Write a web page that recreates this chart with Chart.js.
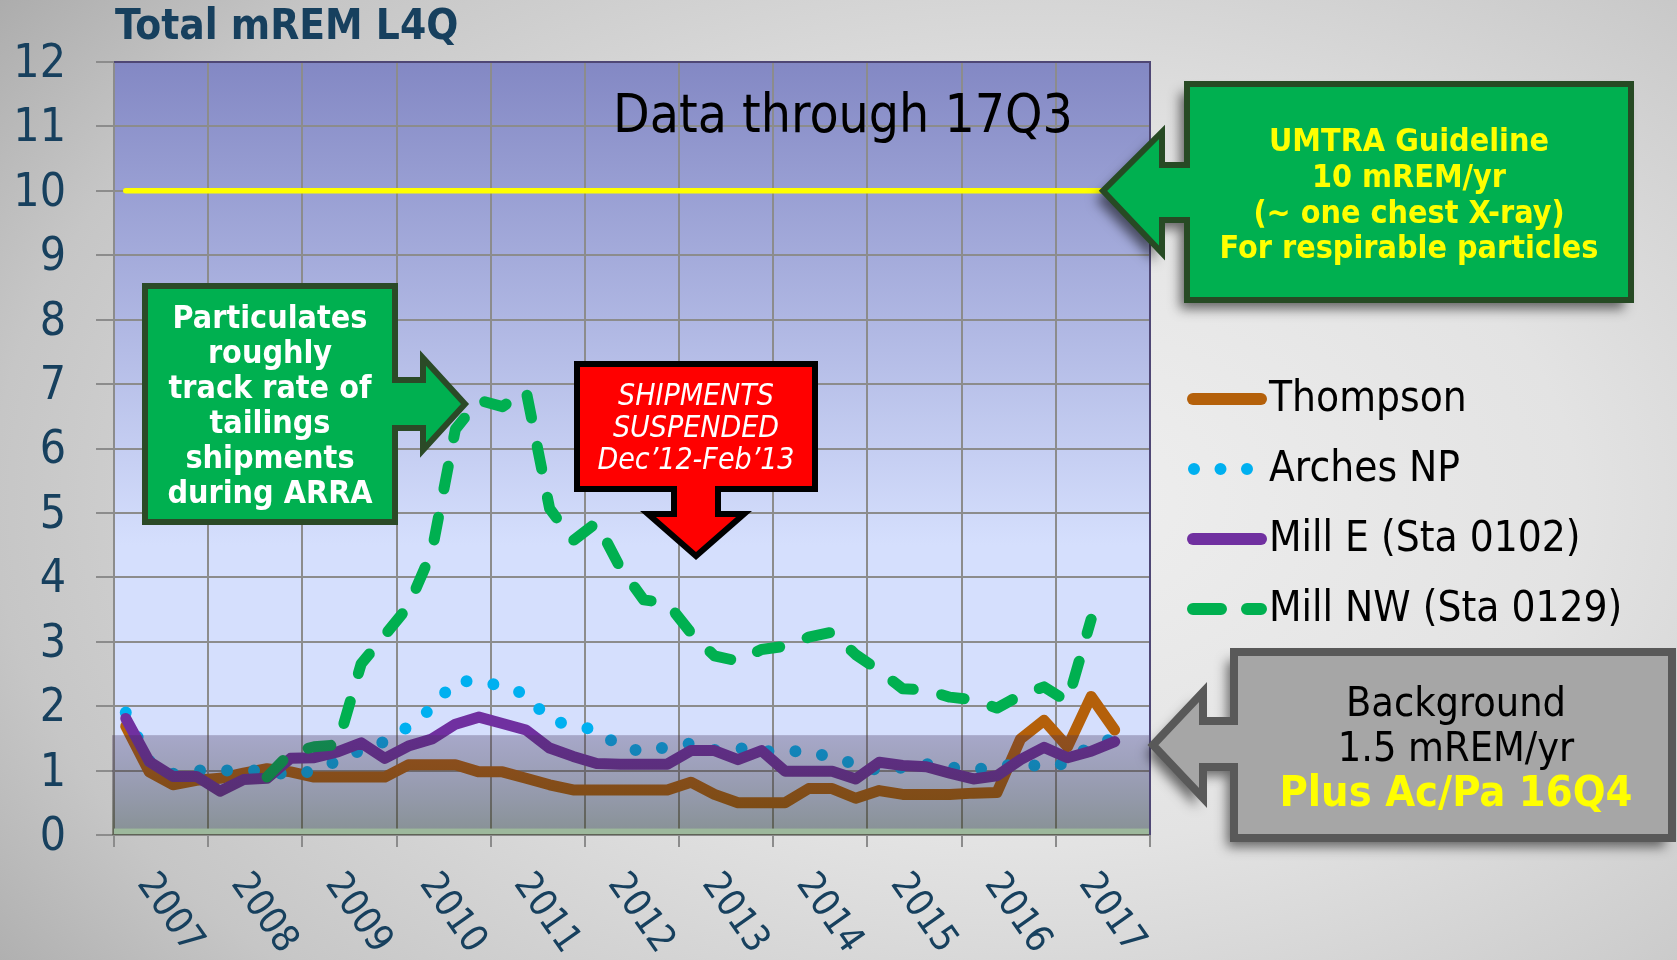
<!DOCTYPE html>
<html>
<head>
<meta charset="utf-8">
<title>Total mREM L4Q</title>
<script src="https://cdn.jsdelivr.net/npm/chart.js@4.4.1/dist/chart.umd.min.js"></script>
<style>
  html, body { margin: 0; padding: 0; }
  #wrap {
    position: relative;
    width: 1677px;
    height: 960px;
    background: radial-gradient(ellipse 80% 90% at 62% 52%, #efefef 0%, #e3e3e3 40%, #c6c6c6 78%, #a8a8a8 100%);
  }
</style>
</head>
<body>
<div id="wrap"><canvas id="chart"></canvas></div>
<script>
// years on the axis, one category per quarter
const years = ['2007', '2008', '2009', '2010', '2011', '2012', '2013', '2014', '2015', '2016', '2017'];
const quarters = [];
years.forEach(y => ['Q1', 'Q2', 'Q3', 'Q4'].forEach(q => quarters.push(y + ' ' + q)));

// total mREM, last four quarters (2007 Q1 .. 2017 Q3)
const thompson = [1.69, 0.98, 0.78, 0.85, 0.88, 0.96, 1.03, 0.98, 0.9, 0.9, 0.9, 0.9,
  1.09, 1.09, 1.09, 0.98, 0.98, 0.88, 0.78, 0.7, 0.7, 0.7, 0.7, 0.7,
  0.82, 0.63, 0.5, 0.5, 0.5, 0.72, 0.72, 0.57, 0.69, 0.63, 0.63, 0.63,
  0.65, 0.66, 1.49, 1.78, 1.37, 2.15, 1.63];
const arches = [1.9, 1.15, 0.95, 1.0, 1.0, 1.0, 1.0, 0.92, 1.0, 1.15, 1.32, 1.45,
  1.68, 1.97, 2.4, 2.37, 2.32, 2.18, 1.78, 1.7, 1.63, 1.37, 1.29, 1.37,
  1.42, 1.32, 1.35, 1.3, 1.3, 1.3, 1.2, 1.1, 1.0, 1.05, 1.1, 1.05,
  1.02, 1.05, 1.12, 1.05, 1.12, 1.4, 1.5];
const millE = [1.81, 1.14, 0.91, 0.91, 0.68, 0.86, 0.88, 1.19, 1.2, 1.29, 1.43, 1.19,
  1.38, 1.49, 1.72, 1.83, 1.73, 1.63, 1.35, 1.22, 1.11, 1.1, 1.1, 1.1,
  1.31, 1.31, 1.17, 1.31, 0.99, 0.99, 0.99, 0.87, 1.13, 1.08, 1.06, 0.96,
  0.87, 0.92, 1.17, 1.36, 1.2, 1.3, 1.45];
const millNW = [null, null, null, null, null, null, 0.9, 1.28, 1.37, 1.4, 2.66, 3.1,
  3.55, 4.4, 6.3, 6.75, 6.65, 6.9, 5.07, 4.57, 4.85, 4.15, 3.65, 3.6,
  3.14, 2.78, 2.7, 2.88, 2.93, 3.07, 3.15, 2.8, 2.55, 2.27, 2.25, 2.14,
  2.1, 1.97, 2.17, 2.3, 2.07, 3.35];

const guidelineLevel = 10;            // UMTRA guideline, mREM/yr
const guidelineSpan = ['2007 Q1', '2017 Q3'];
const backgroundLevel = 1.55;         // shaded background band
const yTicks = [0, 12];

const FONT = '"DejaVu Sans Condensed", "DejaVu Sans", sans-serif';
const INK = '#17405E';

function font(size, weight, style) {
  return (style || 'normal') + ' ' + (weight || 'normal') + ' ' + size + 'px ' + FONT;
}

function textRows(ctx, rows, x, y0, step, f, color) {
  ctx.font = f;
  ctx.fillStyle = color;
  ctx.textAlign = 'center';
  ctx.textBaseline = 'middle';
  rows.forEach((r, i) => ctx.fillText(r, x, y0 + i * step));
}

function shape(ctx, pts, fill, stroke, lw, shadow) {
  ctx.save();
  ctx.beginPath();
  pts.forEach((p, i) => i ? ctx.lineTo(p[0], p[1]) : ctx.moveTo(p[0], p[1]));
  ctx.closePath();
  if (shadow) {
    ctx.shadowColor = 'rgba(0,0,0,0.55)';
    ctx.shadowBlur = 12;
    ctx.shadowOffsetX = -7;
    ctx.shadowOffsetY = 9;
  }
  ctx.fillStyle = fill;
  ctx.fill();
  ctx.shadowColor = 'transparent';
  ctx.lineWidth = lw;
  ctx.strokeStyle = stroke;
  ctx.lineJoin = 'miter';
  ctx.stroke();
  ctx.restore();
}

const decor = {
  id: 'decor',
  beforeDraw(chart) {
    const {ctx, chartArea: a, scales: {y}} = chart;
    const g = ctx.createLinearGradient(0, y.getPixelForValue(12), 0, y.getPixelForValue(4.5));
    g.addColorStop(0, '#8388C4');
    g.addColorStop(1, '#D5DFFD');
    ctx.save();
    ctx.fillStyle = g;
    ctx.fillRect(a.left, a.top, a.right - a.left, a.bottom - a.top);
    ctx.restore();
  },
  afterDatasetsDraw(chart) {
    const {ctx, chartArea: a, scales: {x, y}} = chart;
    ctx.save();

    // background band sits over the lines
    const bTop = y.getPixelForValue(backgroundLevel);
    const bg = ctx.createLinearGradient(0, bTop, 0, a.bottom);
    bg.addColorStop(0, 'rgba(60,40,80,0.30)');
    bg.addColorStop(1, 'rgba(40,50,20,0.45)');
    ctx.fillStyle = bg;
    ctx.fillRect(a.left - 2, bTop, a.right - a.left + 2, a.bottom - bTop);
    ctx.fillStyle = '#9DB89C';
    const sTop = y.getPixelForValue(0.1);
    ctx.fillRect(a.left, sTop, a.right - a.left, a.bottom - sTop - 1);

    // plot frame, top and right
    ctx.strokeStyle = '#4F4775';
    ctx.lineWidth = 2;
    ctx.beginPath();
    ctx.moveTo(a.left, a.top);
    ctx.lineTo(a.right, a.top);
    ctx.lineTo(a.right, a.bottom);
    ctx.stroke();

    // title
    ctx.font = font(42, 'bold');
    ctx.fillStyle = INK;
    ctx.textAlign = 'left';
    ctx.textBaseline = 'middle';
    ctx.fillText('Total mREM L4Q', 115, 28);

    // year labels, rotated, centred on each year
    ctx.font = font(38);
    years.forEach((yr, k) => {
      const cx = (x.getPixelForValue(4 * k + 1) + x.getPixelForValue(4 * k + 2)) / 2;
      ctx.save();
      ctx.translate(cx - 1, a.bottom + 32);
      ctx.rotate(55 * Math.PI / 180);
      ctx.textAlign = 'left';
      ctx.textBaseline = 'top';
      ctx.fillText(yr, 0, 0);
      ctx.restore();
    });

    // note
    textRows(ctx, ['Data through 17Q3'], 843, 118, 0, font(53), '#000000');

    // green callout: shipments
    shape(ctx, [[145, 286], [395, 286], [395, 380], [423, 380], [423, 358], [465, 404],
      [423, 450], [423, 428], [395, 428], [395, 522], [145, 522]], '#00B050', '#2B4A27', 6, false);
    textRows(ctx, ['Particulates', 'roughly', 'track rate of', 'tailings', 'shipments', 'during ARRA'],
      270, 320, 35, font(32, 'bold'), '#FFFFFF');

    // red callout
    shape(ctx, [[577, 364], [815, 364], [815, 489], [718, 489], [718, 514], [744, 514], [696, 556],
      [648, 514], [674, 514], [674, 489], [577, 489]], '#FF0000', '#000000', 6, false);
    textRows(ctx, ['SHIPMENTS', 'SUSPENDED', 'Dec\u201912-Feb\u201913'], 696, 397, 32,
      font(30, 'normal', 'italic'), '#FFFFFF');

    // UMTRA guideline callout, tip on the guideline
    const gy = y.getPixelForValue(guidelineLevel);
    shape(ctx, [[1187, 84], [1631, 84], [1631, 300], [1187, 300], [1187, 220], [1162, 220],
      [1162, 253], [1103, gy], [1162, 132], [1162, 165], [1187, 165]], '#00B050', '#274A24', 6, true);
    textRows(ctx, ['UMTRA Guideline', '10 mREM/yr', '(~ one chest X-ray)', 'For respirable particles'],
      1409, 143, 35.7, font(32, 'bold'), '#FFFF00');

    // background callout
    shape(ctx, [[1234, 652], [1672, 652], [1672, 838], [1234, 838], [1234, 767], [1203, 767],
      [1203, 798], [1153, 745], [1203, 692], [1203, 721], [1234, 721]], '#A6A6A6', '#595959', 8, true);
    textRows(ctx, ['Background', '1.5 mREM/yr'], 1456, 705, 45, font(41), '#000000');
    textRows(ctx, ['Plus Ac/Pa 16Q4'], 1456, 795, 0, font(43, 'bold'), '#FFFF00');

    // legend
    const rows = [400, 470, 540, 610];
    chart.data.datasets.slice(0, 4).forEach((ds, i) => {
      const ly = rows[i];
      ctx.save();
      ctx.strokeStyle = ds.borderColor;
      ctx.lineWidth = 12;
      ctx.lineCap = 'round';
      if (i === 1) ctx.setLineDash([0, 26.5]);
      if (i === 3) ctx.setLineDash([28, 26]);
      ctx.beginPath();
      ctx.moveTo(i === 1 ? 1194 : 1193, ly - 1);
      ctx.lineTo(i === 1 ? 1248 : 1261, ly - 1);
      ctx.stroke();
      ctx.restore();
      ctx.font = font(42);
      ctx.fillStyle = '#000000';
      ctx.textAlign = 'left';
      ctx.textBaseline = 'middle';
      ctx.fillText(ds.label, 1269, ly);
    });

    ctx.restore();
  }
};

const chart = new Chart(document.getElementById('chart'), {
  type: 'line',
  data: {
    labels: quarters,
    datasets: [
      {label: 'Thompson', data: thompson, borderColor: '#B4600A', borderWidth: 11, order: 4},
      {label: 'Arches NP', data: arches, borderColor: '#00B0F0', borderWidth: 12, borderDash: [0, 27], order: 3},
      {label: 'Mill E (Sta 0102)', data: millE, borderColor: '#7030A0', borderWidth: 11, order: 2},
      {label: 'Mill NW (Sta 0129)', data: millNW, borderColor: '#00B050', borderWidth: 11, borderDash: [23, 29], order: 1},
      {label: 'UMTRA Guideline', data: guidelineSpan.map(q => ({x: q, y: guidelineLevel})),
        borderColor: '#FFFF00', borderWidth: 5.5, order: 0}
    ]
  },
  options: {
    animation: false,
    responsive: true,
    maintainAspectRatio: false,
    layout: {padding: {top: 62, right: 527, bottom: 0, left: 0}},
    elements: {
      point: {radius: 0},
      line: {tension: 0, borderCapStyle: 'round', borderJoinStyle: 'round', fill: false}
    },
    plugins: {
      legend: {display: false},
      tooltip: {enabled: false},
      title: {display: false}
    },
    scales: {
      x: {
        type: 'category',
        offset: true,
        ticks: {display: false},
        grid: {
          offset: true,
          lineWidth: 2,
          tickLength: 12,
          color: c => (c.index === undefined || c.index % 4 === 0) ? '#8C8C8C' : 'rgba(0,0,0,0)'
        },
        border: {color: '#8C8C8C', width: 2},
        afterFit: s => { s.height = 125; }
      },
      y: {
        min: yTicks[0],
        max: yTicks[1],
        ticks: {stepSize: 1, color: INK, padding: 30, labelOffset: 3, font: {family: FONT, size: 46}},
        grid: {color: '#8C8C8C', lineWidth: 2, tickLength: 18},
        border: {color: '#8C8C8C', width: 2},
        afterFit: s => { s.width = 114; }
      }
    }
  },
  plugins: [decor]
});
</script>
</body>
</html>
